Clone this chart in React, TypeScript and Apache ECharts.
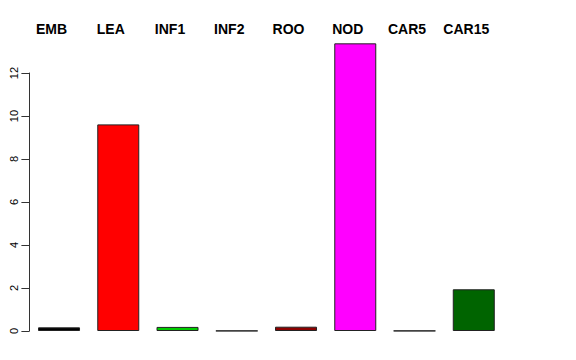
import React, { useEffect, useRef } from "react";
import * as echarts from "echarts";

const categories = ["EMB", "LEA", "INF1", "INF2", "ROO", "NOD", "CAR5", "CAR15"];
const values = [0.17, 9.61, 0.19, 0.01, 0.2, 13.38, 0.01, 1.94];
const colors = ["#000000", "#FF0000", "#00CD00", "#0000FF", "#8B0000", "#FF00FF", "#00FFFF", "#006400"];
const yTicks = [0, 2, 4, 6, 8, 10, 12];

export default function App() {
  const ref = useRef<HTMLDivElement>(null);
  useEffect(() => {
    if (!ref.current) return;
    const chart = echarts.init(ref.current, undefined, { renderer: "svg" });
    chart.setOption({
      animation: false,
      backgroundColor: "#ffffff",
      grid: { left: 29.4, width: 474, top: 73, height: 258 },
      xAxis: {
        type: "category",
        data: categories,
        position: "top",
        axisLine: { show: false },
        axisTick: { show: false },
        axisLabel: {
          margin: 37,
          fontFamily: "Liberation Sans",
          fontWeight: "bold",
          fontSize: 14,
          color: "#000",
          padding: [0, 15, 0, 0],
          interval: 0,
        },
      },
      yAxis: {
        type: "value",
        min: yTicks[0],
        max: yTicks[yTicks.length - 1],
        interval: 2,
        offset: 0,
        splitLine: { show: false },
        axisLine: { show: true, lineStyle: { color: "#333", width: 1 } },
        axisTick: { show: true, length: 8, lineStyle: { color: "#333" } },
        axisLabel: {
          rotate: 90,
          margin: 10,
          fontFamily: "Liberation Sans",
          fontSize: 11,
          color: "#000",
        },
      },
      series: [
        {
          type: "bar",
          clip: false,
          barWidth: 42,
          data: values.map((v, i) => ({
            value: v,
            itemStyle: { color: colors[i], borderColor: "#222", borderWidth: 1 },
          })),
        },
      ],
    });
    return () => chart.dispose();
  }, []);
  return (
    <div
      ref={ref}
      style={{ position: "fixed", left: 0, top: 0, width: 576, height: 360, background: "#fff" }}
    />
  );
}
